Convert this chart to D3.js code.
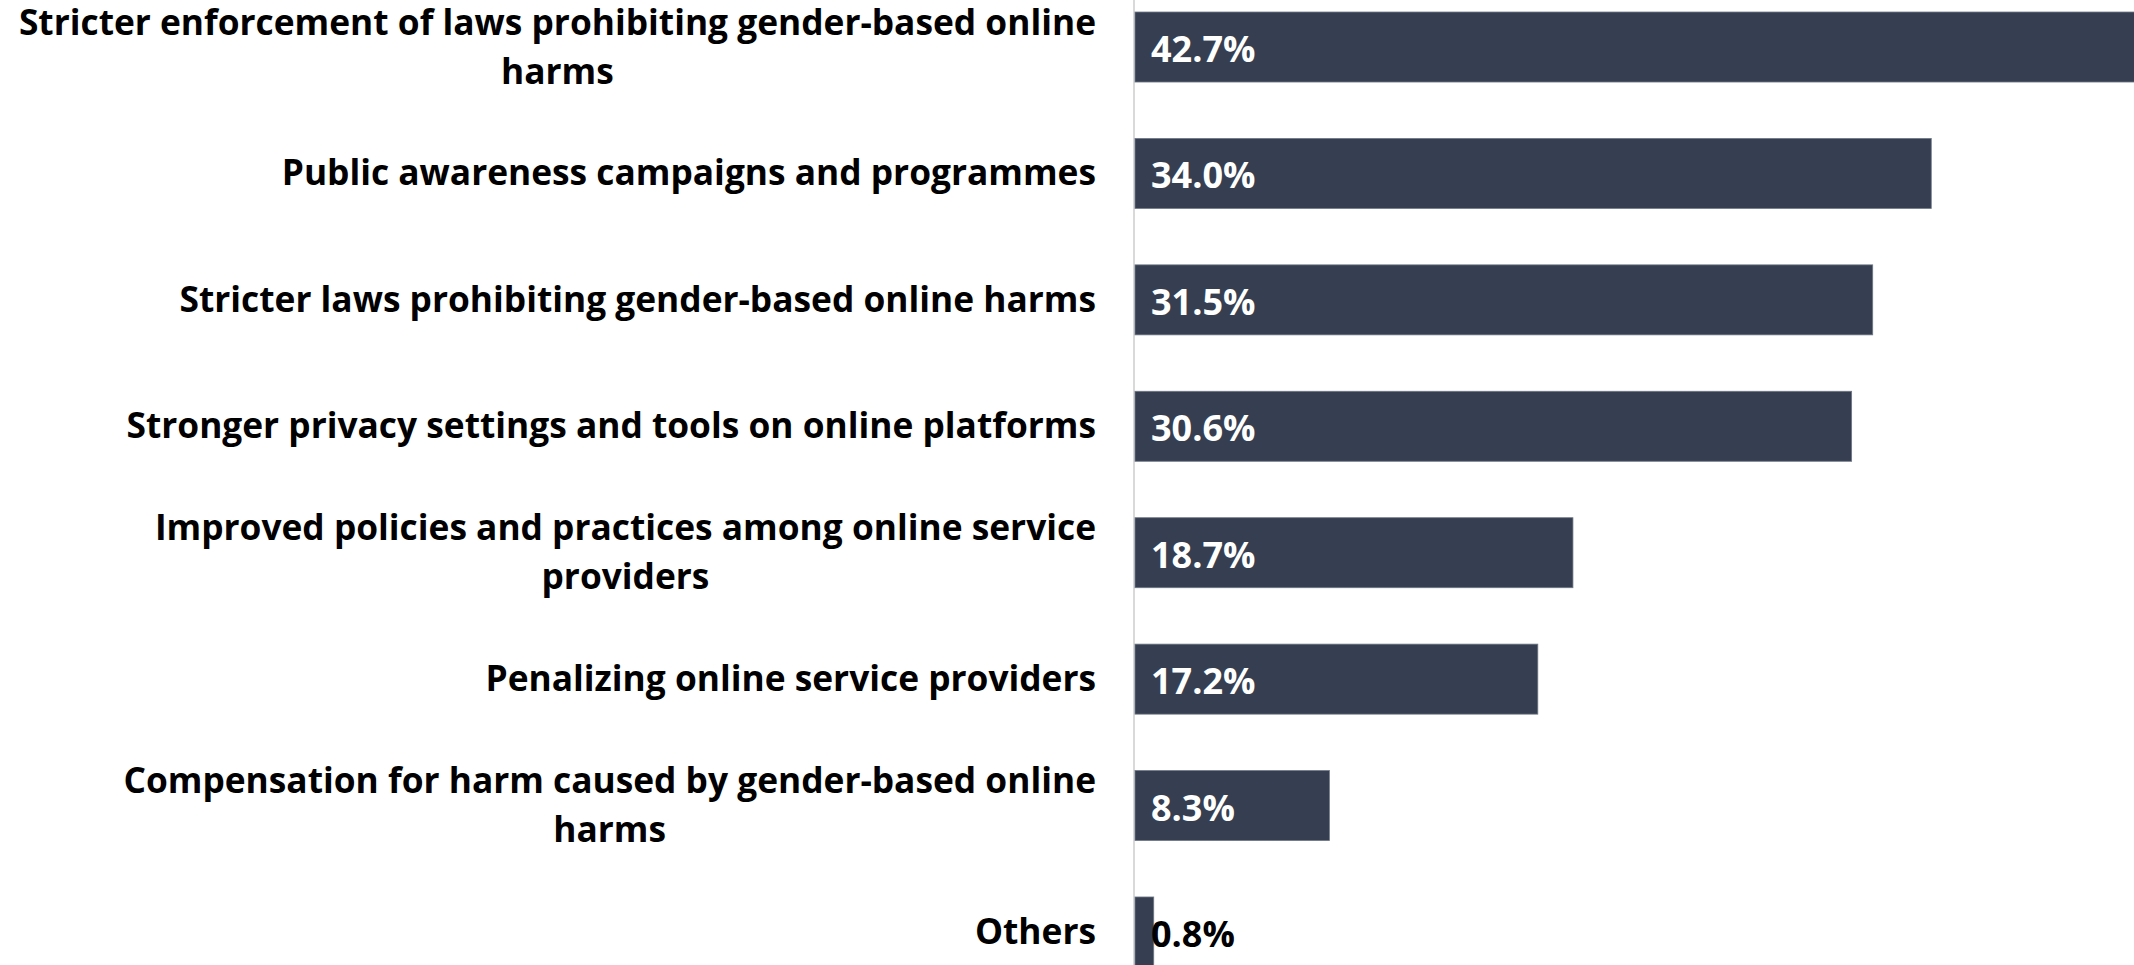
<!DOCTYPE html>
<html>
<head>
<meta charset="utf-8">
<script src="https://cdn.jsdelivr.net/npm/d3@7"></script>
<style>
  html, body { margin: 0; padding: 0; background: #ffffff; overflow: hidden; }
  svg { display: block; }
  text { font-family: "Open Sans", "Noto Sans", sans-serif; font-weight: 700; }
</style>
</head>
<body>
<svg id="chart" width="2134" height="965"></svg>
<script>
// Measures people want against gender-based online harms (share of respondents, %)
// "\n" marks where a category label breaks onto a second line.
const categories = [
  "Stricter enforcement of laws prohibiting gender-based online\nharms",
  "Public awareness campaigns and programmes",
  "Stricter laws prohibiting gender-based online harms",
  "Stronger privacy settings and tools on online platforms",
  "Improved policies and practices among online service\nproviders",
  "Penalizing online service providers",
  "Compensation for harm caused by gender-based online\nharms",
  "Others"
];
const values = [42.7, 34.0, 31.5, 30.6, 18.7, 17.2, 8.3, 0.8];
const valueLabels = ["42.7%", "34.0%", "31.5%", "30.6%", "18.7%", "17.2%", "8.3%", "0.8%"];

const W = 2134, H = 965;
const svg = d3.select("#chart");

const x = d3.scaleLinear().domain([0, 42.7]).range([1135, 2135]);
const y = d3.scaleBand()
  .domain(categories)
  .range([-16.2, 995.2])
  .paddingInner(0.4463)
  .paddingOuter(0.2232);

const data = categories.map((c, i) => ({ cat: c, v: values[i], label: valueLabels[i] }));

// category axis line
svg.append("line")
  .attr("x1", x(0) - 1).attr("x2", x(0) - 1)
  .attr("y1", 0).attr("y2", H)
  .attr("stroke", "#d9d9d9").attr("stroke-width", 2);

// bars
svg.append("g").selectAll("rect")
  .data(data).join("rect")
  .attr("x", x(0))
  .attr("y", d => y(d.cat))
  .attr("width", d => x(d.v) - x(0))
  .attr("height", y.bandwidth())
  .attr("fill", "#353f51")
  .attr("stroke", "#6f7785")
  .attr("stroke-width", 0.8);

// category labels: lines centred on each other, block right-aligned to the axis
const labelRight = 1096;
const lineGap = 49;
const catG = svg.append("g");
data.forEach(d => {
  const lines = d.cat.split("\n");
  const t = catG.append("text")
    .attr("font-size", 35.3)
    .attr("fill", "#000000")
    .attr("text-anchor", "middle");
  const cy = y(d.cat) + y.bandwidth() / 2;
  const spans = lines.map((ln, j) =>
    t.append("tspan")
      .attr("y", cy + 12 + (j - (lines.length - 1) / 2) * lineGap)
      .text(ln));
  // widest line decides the block centre
  const maxW = d3.max(spans, s => s.node().getComputedTextLength());
  spans.forEach(s => s.attr("x", labelRight - maxW / 2));
});

// value labels
svg.append("g").selectAll("text")
  .data(data).join("text")
  .attr("x", x(0) + 16)
  .attr("y", d => y(d.cat) + y.bandwidth() / 2 + 15)
  .attr("font-size", 36)
  .attr("fill", d => (x(d.v) - x(0)) > 100 ? "#ffffff" : "#000000")
  .text(d => d.label);
</script>
</body>
</html>
